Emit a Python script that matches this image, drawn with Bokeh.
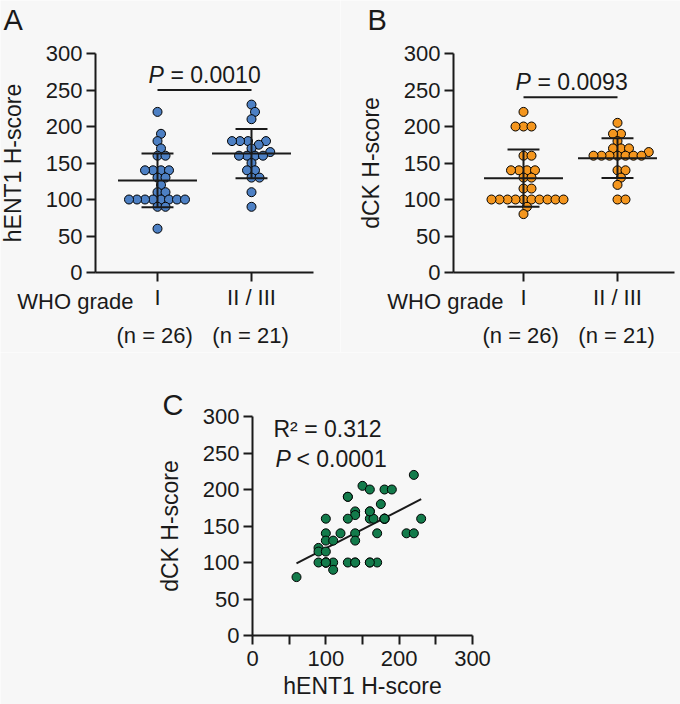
import numpy as np
from bokeh.plotting import figure
from bokeh.models import Range1d, FixedTicker
from bokeh.layouts import column, row
from bokeh.core.properties import value
from bokeh.embed import file_html
from bokeh.resources import INLINE

# ---------------- data ----------------
group_labels = ["I", "II / III"]
group_n = ["(n = 26)", "(n = 21)"]
grade_title = "WHO grade"

hent1_g1 = [220, 190, 180, 170, 160, 160, 140, 140, 140, 140, 130, 130, 120,
            110, 110, 100, 100, 100, 100, 100, 100, 100, 100, 90, 90, 60]
hent1_g23 = [230, 220, 210, 180, 180, 180, 180, 175, 170, 165, 160, 160, 160,
             160, 150, 140, 140, 130, 130, 110, 90]
dck_g1 = [220, 200, 200, 200, 160, 160, 140, 140, 140, 140, 130, 130, 115, 115,
          100, 100, 100, 100, 100, 100, 100, 100, 100, 100, 90, 80]
dck_g23 = [205, 190, 190, 180, 170, 170, 170, 165, 160, 160, 160, 160, 160, 160,
           160, 140, 140, 130, 120, 100, 100]

corr_hent1 = [60, 220, 150, 160, 180, 190, 130, 175, 140, 140, 160, 100, 130, 160,
              165, 180, 230, 100, 120, 140, 170, 210, 220, 100, 110, 140, 90, 90,
              100, 90, 100, 110, 130, 140, 160, 170, 110,
              130, 160, 180, 180, 180, 100, 100, 100, 140, 160]
corr_dck = [80, 220, 205, 200, 200, 200, 190, 180, 170, 165, 170, 160, 160, 160,
            160, 160, 160, 140, 140, 140, 140, 140, 140, 130, 130, 130, 120, 115,
            115, 100, 100, 100, 100, 100, 100, 100, 90,
            190, 170, 160, 160, 160, 100, 100, 100, 100, 100]

p_text_A = "= 0.0010"
p_text_B = "= 0.0093"
sig_bar_A = 250
sig_bar_B = 240
r2_text = "R\u00b2 = 0.312"
p_text_C = "< 0.0001"
y_ticks = [0, 50, 100, 150, 200, 250, 300]
panel_letters = ["A", "B", "C"]

# ---------------- style ----------------
FONT = "Liberation Sans"
BG = "#f7f7f7"
INK = "#1a1a1a"
BLUE = "#4d80c4"
ORANGE = "#f4961e"
GREEN = "#137b4b"
TICK_FS = 22
LAB_FS = 23
TXT_FS = 23
PANEL_FS = 29
XPU = 94.0           # px per category unit (panels A, B)
YPU = 219.0 / 300.0  # px per H-score unit (vertical, all panels)
XPC = 220.0 / 300.0  # px per H-score unit (horizontal, panel C)

# page-pixel -> data helpers (layout geometry only)
def pxA(px): return (px - 157) / XPU
def pxB(px): return (px - 523) / XPU
def pyAB(py): return (272 - py) / YPU
def pxC(px): return (px - 252) / XPC
def pyC(py): return (635 - py) / YPU


def swarm_offsets(vals, d=8.0, step=0.25):
    order = sorted(range(len(vals)), key=lambda i: vals[i])
    placed = []
    offs = [0.0] * len(vals)
    cands = [0.0]
    for j in range(1, 400):
        cands += [j * step, -j * step]
    for i in order:
        y = vals[i] * YPU
        for c in cands:
            if all((c - px) ** 2 + (y - py) ** 2 >= d * d for px, py in placed):
                break
        placed.append((c, y))
        offs[i] = c / XPU
    return offs


def base_figure(W, H, xr, yr):
    p = figure(width=W, height=H, output_backend="svg", toolbar_location=None,
               x_range=Range1d(*xr), y_range=Range1d(*yr), min_border=0)
    for ax in p.axis:
        ax.axis_line_width = 2
        ax.axis_line_color = INK
        ax.major_tick_line_width = 2
        ax.major_tick_line_color = INK
        ax.major_tick_out = 9
        ax.major_tick_in = 0
        ax.minor_tick_line_color = None
        ax.major_label_text_font = FONT
        ax.major_label_text_font_size = f"{TICK_FS}px"
        ax.major_label_text_color = INK
        ax.axis_label_text_font = FONT
        ax.axis_label_text_font_size = f"{LAB_FS}px"
        ax.axis_label_text_font_style = "normal"
        ax.axis_label_text_color = INK
    p.grid.visible = False
    p.outline_line_color = None
    p.background_fill_color = BG
    p.border_fill_color = BG
    return p


def txt(p, xs, page_y, pyf, texts, align="left", size=TXT_FS, style="normal",
        x_offset=0):
    # page_y: wanted baseline in page pixels (small correction for text layout)
    y = pyf(page_y - 0.3 * size)
    p.text(x=xs, y=[y] * len(xs), text=texts, text_align=align,
           text_baseline="alphabetic", text_font=value(FONT),
           text_font_size=value(f"{size}px"), text_font_style=style,
           text_color=INK, x_offset=x_offset)


def dot_panel(g1, g23, color, ylab, letter, ptxt, bar_y, pagex0, pagex1, px,
              axis_px, axis_end_px, letter_px, who_right_px, p_left_px):
    p = base_figure(pagex1 - pagex0, 352, (px(pagex0), px(pagex1)),
                    (pyAB(352), pyAB(0)))
    p.yaxis.fixed_location = px(axis_px)
    p.yaxis.bounds = (0, 300)
    p.yaxis.ticker = FixedTicker(ticks=y_ticks)
    p.yaxis.major_label_standoff = 4
    p.yaxis.axis_label = ylab
    p.yaxis.axis_label_standoff = 17
    p.xaxis.fixed_location = 0
    p.xaxis.bounds = (px(axis_px), px(axis_end_px))
    p.xaxis.ticker = FixedTicker(ticks=[0, 1])
    p.xaxis.major_label_overrides = {0: group_labels[0], 1: group_labels[1]}
    p.xaxis.major_label_standoff = 3

    for gi, vals in enumerate([g1, g23]):
        offs = swarm_offsets(vals)
        p.scatter([gi + o for o in offs], vals, size=9, fill_color=color,
                  line_color="black", line_width=1)
    for gi, vals in enumerate([g1, g23]):
        m = float(np.mean(vals))
        sd = float(np.std(vals, ddof=1))
        p.segment([gi - 0.42, gi - 0.17, gi - 0.17, gi], [m, m + sd, m - sd, m - sd],
                  [gi + 0.42, gi + 0.17, gi + 0.17, gi], [m, m + sd, m - sd, m + sd],
                  line_color=INK, line_width=2)
    # significance bar and P value (8 px above the bar)
    p.segment([0], [bar_y], [1], [bar_y], line_color=INK, line_width=2)
    bar_page = 272 - bar_y * YPU
    txt(p, [px(p_left_px)], bar_page - 8, pyAB, ["P"], style="italic")
    txt(p, [px(p_left_px)], bar_page - 8, pyAB, [ptxt], x_offset=22)

    # category annotations below the axis
    txt(p, [px(who_right_px)], 308, pyAB, [grade_title], align="right", size=TICK_FS)
    txt(p, [0 - 0.03, 1 - 0.01], 342, pyAB, group_n, align="center", size=TICK_FS)
    # panel letter
    txt(p, [px(letter_px)], 28, pyAB, [letter], size=PANEL_FS)
    return p


pA = dot_panel(hent1_g1, hent1_g23, BLUE, "hENT1 H-score", panel_letters[0], p_text_A,
               sig_bar_A, 0, 340, pxA, axis_px=95, axis_end_px=313, letter_px=3,
               who_right_px=133, p_left_px=148)
pB = dot_panel(dck_g1, dck_g23, ORANGE, "dCK H-score", panel_letters[1], p_text_B,
               sig_bar_B, 340, 680, pxB, axis_px=453, axis_end_px=674, letter_px=367,
               who_right_px=503, p_left_px=515)

# ---------------- panel C ----------------
pC = base_figure(680, 352, (pxC(0), pxC(680)), (pyC(704), pyC(352)))
pC.yaxis.fixed_location = 0
pC.yaxis.bounds = (0, 300)
pC.yaxis.ticker = FixedTicker(ticks=y_ticks)
pC.yaxis.major_label_standoff = 4
pC.yaxis.axis_label = "dCK H-score"
pC.yaxis.axis_label_standoff = 17
pC.xaxis.fixed_location = 0
pC.xaxis.bounds = (0, 300)
pC.xaxis.ticker = FixedTicker(ticks=y_ticks)
pC.xaxis.major_label_overrides = {50: "", 150: "", 250: ""}
pC.xaxis.major_label_standoff = 6
pC.xaxis.axis_label = "hENT1 H-score"
pC.xaxis.axis_label_standoff = 4

slope, icpt = np.polyfit(corr_hent1, corr_dck, 1)
xl = [min(corr_hent1), max(corr_hent1)]
pC.line(xl, [slope * v + icpt for v in xl], line_color=INK, line_width=2)
pC.scatter(corr_hent1, corr_dck, size=9, fill_color=GREEN, line_color="black",
           line_width=1)
txt(pC, [pxC(273)], 435, pyC, [r2_text])
txt(pC, [pxC(275)], 465, pyC, ["P"], style="italic")
txt(pC, [pxC(275)], 465, pyC, [p_text_C], x_offset=21)
txt(pC, [pxC(162)], 413, pyC, [panel_letters[2]], size=PANEL_FS)

layout = column(row(pA, pB, spacing=0), pC, spacing=0)
open("out.html", "w").write(file_html(layout, INLINE))
